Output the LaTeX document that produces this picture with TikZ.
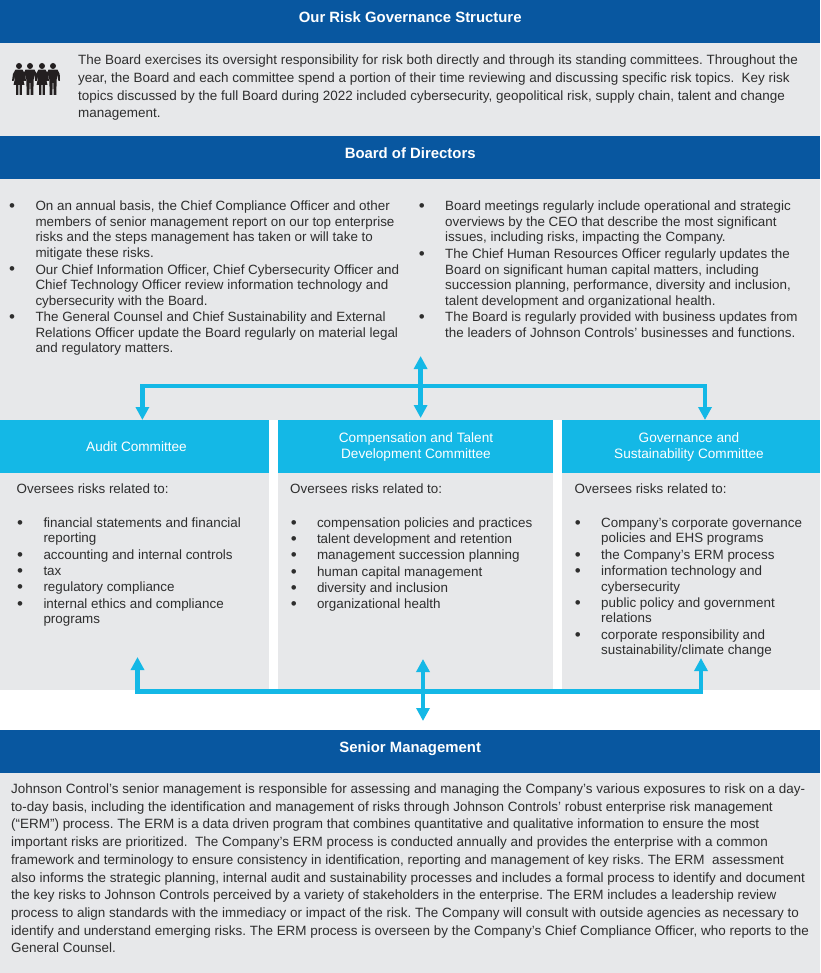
\documentclass[tikz,border=0pt]{standalone}
\usepackage{fontspec}
\setmainfont{Liberation Sans}
\usetikzlibrary{arrows.meta}
\definecolor{jblue}{HTML}{0857A0}
\definecolor{jgray}{HTML}{E7E8EA}
\definecolor{jcyan}{HTML}{14B8E6}
\definecolor{jtext}{HTML}{2E2E2E}
\definecolor{jicon}{HTML}{231F20}
\frenchspacing
\newcommand{\fl}{\rule{0pt}{11pt}}
\newcommand{\bt}{\llap{\raisebox{-0.9pt}{\fontsize{17pt}{17pt}\selectfont\textbullet}\hspace{20.3pt}}}
\newcommand{\bl}{\fl\bt}
\newcommand{\bodyfont}[1]{\fontsize{13.4pt}{#1}\selectfont}
\newcommand{\parafont}{\fontsize{13.46pt}{17.7pt}\selectfont}
\tikzset{
  band/.style={fill=jblue,text=white,minimum width=820pt,inner sep=0,font=\fontsize{14.9pt}{16pt}\selectfont\bfseries,anchor=north west,minimum height=43pt},
  panel/.style={fill=jgray,inner sep=0,anchor=north west},
  cyanhead/.style={fill=jcyan,inner sep=0,anchor=north west,minimum height=53pt},
  headtext/.style={text=white,inner sep=0,align=center,font=\fontsize{13.6pt}{15.6pt}\selectfont},
  block/.style={inner sep=0,anchor=north west,align=left,text=jtext},
  link/.style={draw=jcyan,line width=4.4pt,line join=miter},
  linkend/.style={link,{Triangle[length=13pt,width=13pt]}-{Triangle[length=13pt,width=13pt]}},
}
\newcommand{\manfig}[1]{%
  \fill[jicon] (#1,66) circle (3);
  \fill[jicon] (#1-4.5,69.6) -- (#1+4.5,69.6) -- (#1+6.7,74) -- (#1+7,81) -- (#1+5.5,81) -- (#1+4,74.5) -- (#1+3.6,82) -- (#1+3.3,95) -- (#1+0.6,95) -- (#1+0.4,83) -- (#1-0.4,83) -- (#1-0.6,95) -- (#1-3.3,95) -- (#1-3.6,82) -- (#1-4,74.5) -- (#1-5.5,81) -- (#1-7,81) -- (#1-6.7,74) -- cycle;}
\newcommand{\womanfig}[1]{%
  \fill[jicon] (#1,66) circle (3);
  \fill[jicon] (#1-3.5,69.6) -- (#1+3.5,69.6) -- (#1+6,74) -- (#1+7,81) -- (#1+5.5,81) -- (#1+3.2,75) -- (#1+5.5,85) -- (#1+2.8,85) -- (#1+2.8,95) -- (#1+0.6,95) -- (#1+0.6,85) -- (#1-0.6,85) -- (#1-0.6,95) -- (#1-2.8,95) -- (#1-2.8,85) -- (#1-5.5,85) -- (#1-3.2,75) -- (#1-5.5,81) -- (#1-7,81) -- (#1-6,74) -- cycle;}
\begin{document}
\begin{tikzpicture}[x=1pt,y=-1pt]
\useasboundingbox (0,0) rectangle (820,973);
% panels
\node[panel,minimum width=820pt,minimum height=93pt] (introPanel) at (0,43) {};
\node[panel,minimum width=820pt,minimum height=241pt] (boardPanel) at (0,179) {};
\node[panel,minimum width=269pt,minimum height=217pt] (auditPanel) at (0,473) {};
\node[panel,minimum width=275pt,minimum height=217pt] (compPanel) at (278,473) {};
\node[panel,minimum width=258pt,minimum height=217pt] (govPanel) at (562,473) {};
\node[panel,minimum width=820pt,minimum height=200pt] (seniorPanel) at (0,773) {};
% bands
\node[band] (titleBand) at (0,0) {\raisebox{9pt}{Our Risk Governance Structure}};
\node[band] (boardBand) at (0,136) {\raisebox{9pt}{Board of Directors}};
\node[band] (seniorBand) at (0,730) {\raisebox{9pt}{Senior Management}};
% cyan heads
\node[cyanhead,minimum width=269pt] (audit) at (0,420) {};
\node[cyanhead,minimum width=275pt] (comp) at (278,420) {};
\node[cyanhead,minimum width=258pt] (gov) at (562,420) {};
\node[headtext] (auditText) at (136.5,446.8) {Audit Committee};
\node[headtext] (compText) at (416,447) {Compensation and Talent\\Development Committee};
\node[headtext] (govText) at (689,447) {Governance and\\Sustainability Committee};
% icon
\womanfig{19}\manfig{30}\womanfig{42}\manfig{53}
% intro
\node[block,font=\parafont] (intro) at (78,53.5) {\fl The Board exercises its oversight responsibility for risk both directly and through its standing committees. Throughout the\\
year, the Board and each committee spend a portion of their time reviewing and discussing specific risk topics.\ \ Key risk\\
topics discussed by the full Board during 2022 included cybersecurity, geopolitical risk, supply chain, talent and change\\
management.};
% board lists
\node[block,font=\bodyfont{15.5pt}] (boardLeft) at (35.3,199.7) {\bl On an annual basis, the Chief Compliance Officer and other\\
members of senior management report on our top enterprise\\
risks and the steps management has taken or will take to\\
mitigate these risks.\\[1.1pt]
\bt Our Chief Information Officer, Chief Cybersecurity Officer and\\
Chief Technology Officer review information technology and\\
cybersecurity with the Board.\\[1.1pt]
\bt The General Counsel and Chief Sustainability and External\\
Relations Officer update the Board regularly on material legal\\
and regulatory matters.};
\node[block,font=\bodyfont{15.5pt}] (boardRight) at (445,199.7) {\bl Board meetings regularly include operational and strategic\\
overviews by the CEO that describe the most significant\\
issues, including risks, impacting the Company.\\[1.1pt]
\bt The Chief Human Resources Officer regularly updates the\\
Board on significant human capital matters, including\\
succession planning, performance, diversity and inclusion,\\
talent development and organizational health.\\[1.1pt]
\bt The Board is regularly provided with business updates from\\
the leaders of Johnson Controls’ businesses and functions.};
% committee lists
\node[block,font=\bodyfont{15.5pt}] (auditOver) at (16.5,482.3) {\fl Oversees risks related to:};
\node[block,font=\bodyfont{15.5pt}] (compOver) at (290,482.3) {\fl Oversees risks related to:};
\node[block,font=\bodyfont{15.5pt}] (govOver) at (574.5,482.3) {\fl Oversees risks related to:};
\node[block,font=\bodyfont{15.5pt}] (auditList) at (43.3,516) {\bl financial statements and financial\\
reporting\\[0.9pt]
\bt accounting and internal controls\\[0.9pt]
\bt tax\\[0.9pt]
\bt regulatory compliance\\[0.9pt]
\bt internal ethics and compliance\\
programs};
\node[block,font=\bodyfont{16.3pt}] (compList) at (316.8,516) {\bl compensation policies and practices\\
\bt talent development and retention\\
\bt management succession planning\\
\bt human capital management\\
\bt diversity and inclusion\\
\bt organizational health};
\node[block,font=\bodyfont{15.5pt}] (govList) at (601,516) {\bl Company’s corporate governance\\
policies and EHS programs\\[0.9pt]
\bt the Company’s ERM process\\[0.9pt]
\bt information technology and\\
cybersecurity\\[0.9pt]
\bt public policy and government\\
relations\\[0.9pt]
\bt corporate responsibility and\\
sustainability/climate change};
% senior text
\node[block,font=\parafont] (senior) at (11,782.3) {\fl Johnson Control’s senior management is responsible for assessing and managing the Company’s various exposures to risk on a day-\\
to-day basis, including the identification and management of risks through Johnson Controls’ robust enterprise risk management\\
(“ERM”) process. The ERM is a data driven program that combines quantitative and qualitative information to ensure the most\\
important risks are prioritized.\ \ The Company’s ERM process is conducted annually and provides the enterprise with a common\\
framework and terminology to ensure consistency in identification, reporting and management of key risks. The ERM\ \ assessment\\
also informs the strategic planning, internal audit and sustainability processes and includes a formal process to identify and document\\
the key risks to Johnson Controls perceived by a variety of stakeholders in the enterprise. The ERM includes a leadership review\\
process to align standards with the immediacy or impact of the risk. The Company will consult with outside agencies as necessary to\\
identify and understand emerging risks. The ERM process is overseen by the Company’s Chief Compliance Officer, who reports to the\\
General Counsel.};
% upper connectors
\coordinate (upL) at (142.4,386);
\coordinate (upR) at (705,386);
\coordinate (upTop) at (420.6,356);
\coordinate (upBot) at (420.6,418);
\draw[link,-{Triangle[length=13pt,width=13pt]}] (upL) -- (audit.north -| upL);
\draw[link,-{Triangle[length=13pt,width=13pt]}] (upR) -- (gov.north -| upR);
\draw[link,line cap=rect] (upL) -- (upR);
\draw[linkend] (upTop) -- (upBot);
% lower connectors
\coordinate (loL) at (137.5,691.5);
\coordinate (loR) at (701,691.5);
\coordinate (loTopL) at (137.5,657);
\coordinate (loTopR) at (701,658);
\coordinate (loTop) at (423,659);
\coordinate (loBot) at (423,721);
\draw[link,-{Triangle[length=13pt,width=13pt]}] (loL) -- (loTopL);
\draw[link,-{Triangle[length=13pt,width=13pt]}] (loR) -- (loTopR);
\draw[link,line cap=rect] (loL) -- (loR);
\draw[linkend] (loTop) -- (loBot);
\end{tikzpicture}
\end{document}
